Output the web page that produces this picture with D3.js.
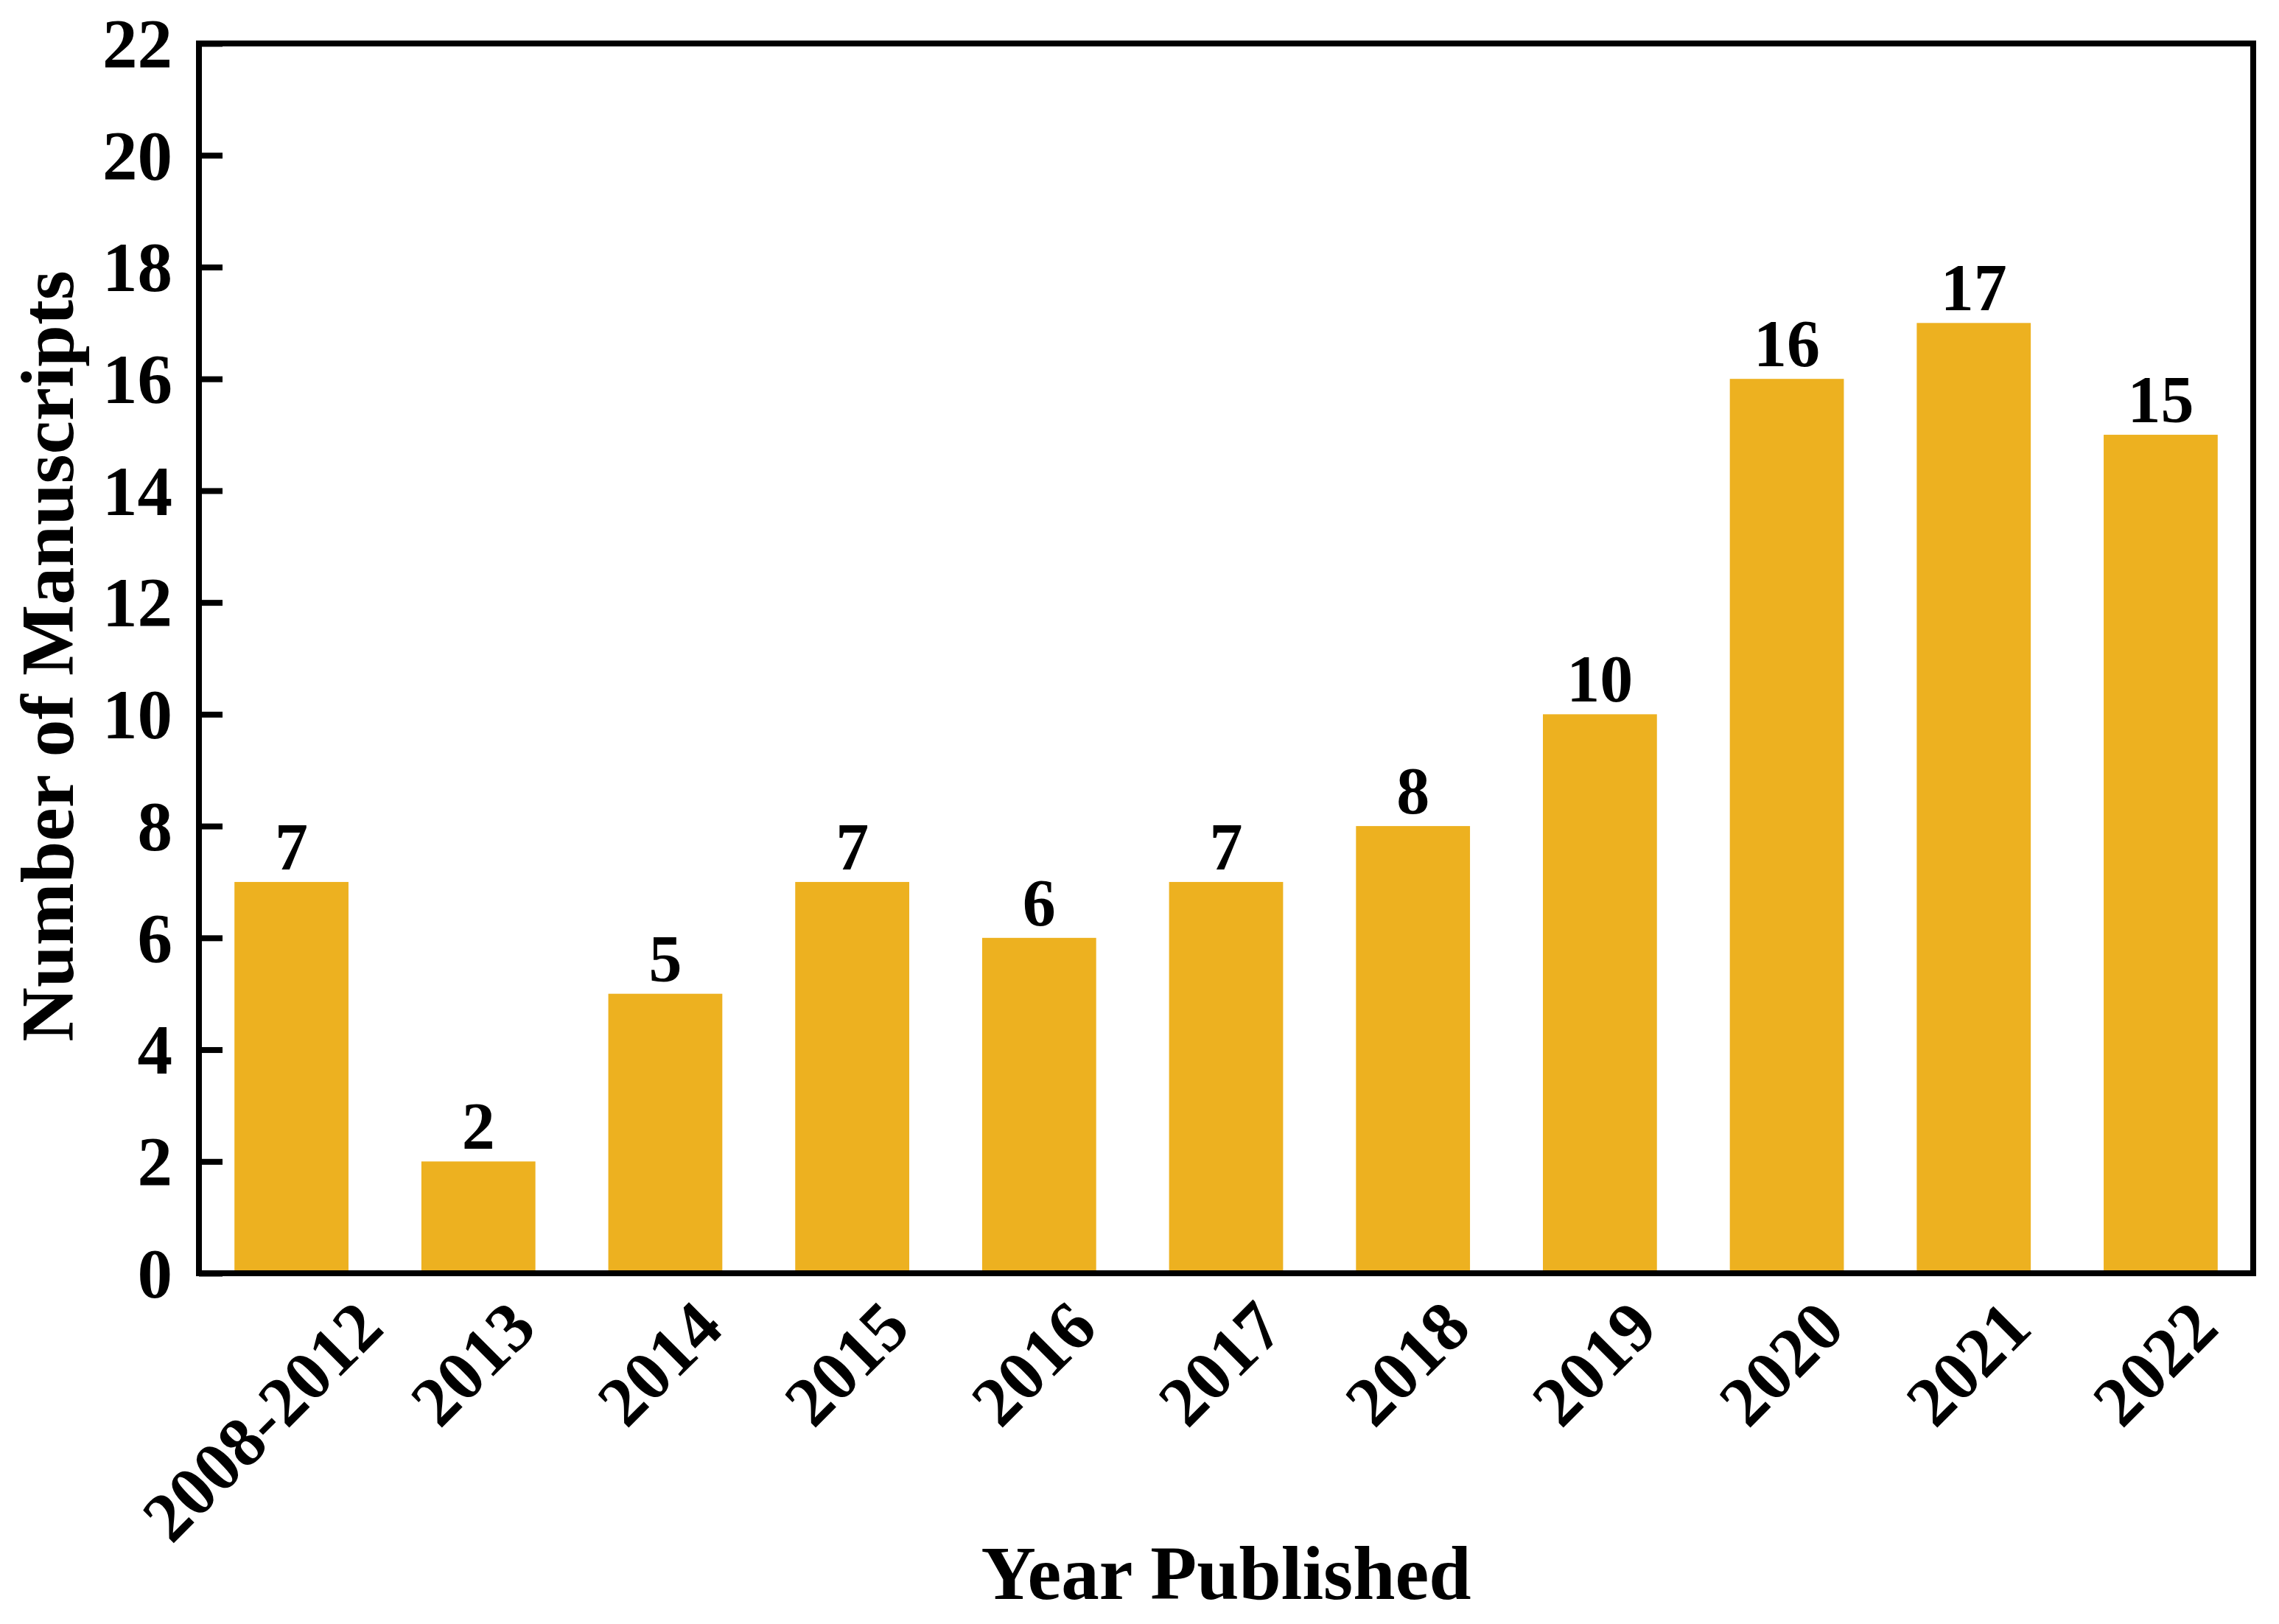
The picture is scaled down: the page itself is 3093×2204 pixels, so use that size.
<!DOCTYPE html>
<html>
<head>
<meta charset="utf-8">
<script src="https://cdn.jsdelivr.net/npm/d3@7"></script>
<style>
    body { margin: 0; background: #fff; }
    text { font-family: "Liberation Serif", "Times New Roman", serif; font-weight: bold; fill: #000; }
</style>
</head>
<body>
<svg id="chartSVG"></svg>
<script>
/* ---------- Data ---------- */
const yearLabels = ["2008-2012", "2013", "2014", "2015", "2016", "2017", "2018", "2019", "2020", "2021", "2022"];
const manuscriptCounts = [7, 2, 5, 7, 6, 7, 8, 10, 16, 17, 15];
const yTickValues = [0, 2, 4, 6, 8, 10, 12, 14, 16, 18, 20, 22];

const svgWidth = 3093, svgHeight = 2204;
const margin = { top: 59, right: 35, bottom: 476, left: 270 };
const chartWidth = svgWidth - margin.left - margin.right;
const chartHeight = svgHeight - margin.top - margin.bottom;
const barColour = "#EDB120";
const lineWidth = 8;

var svg = d3.select("#chartSVG")
    .attr("width", svgWidth)
    .attr("height", svgHeight);
svg.append("rect").attr("width", svgWidth).attr("height", svgHeight).attr("fill", "#fff");

var chart = svg.append("g")
    .attr("transform", "translate(" + margin.left + "," + margin.top + ")");

/* ---------- Scales ---------- */
var xScale = d3.scaleBand()
    .domain(yearLabels)
    .range([0, chartWidth])
    .paddingInner(0.39)
    .paddingOuter(0.19);
var yScale = d3.scaleLinear()
    .domain([0, 22])
    .range([chartHeight, 0]);

/* ---------- Bars ---------- */
chart.selectAll(".bar")
    .data(manuscriptCounts)
    .enter().append("rect")
        .attr("class", "bar")
        .attr("x", (d, i) => xScale(yearLabels[i]))
        .attr("y", d => yScale(d))
        .attr("width", xScale.bandwidth())
        .attr("height", d => chartHeight - yScale(d))
        .attr("fill", barColour);

// value on top of each bar
chart.selectAll(".value")
    .data(manuscriptCounts)
    .enter().append("text")
        .attr("class", "value")
        .attr("x", (d, i) => xScale(yearLabels[i]) + xScale.bandwidth() / 2)
        .attr("y", d => yScale(d) - 17)
        .attr("text-anchor", "middle")
        .style("font-size", "90px")
        .text(d => d);

/* ---------- Y axis (ticks point inward) ---------- */
var yAxis = d3.axisLeft(yScale)
    .tickValues(yTickValues)
    .tickSizeInner(-32)
    .tickSizeOuter(0)
    .tickPadding(36);
var yAxisGroup = chart.append("g").call(yAxis);
yAxisGroup.select(".domain").remove();
yAxisGroup.selectAll(".tick line").attr("stroke", "#000").attr("stroke-width", lineWidth);
yAxisGroup.selectAll(".tick text")
    .attr("fill", "#000")
    .style("font-size", "95px")
    .style("font-family", "'Liberation Serif', 'Times New Roman', serif")
    .style("font-weight", "bold")
    .attr("dy", "0.34em");

/* ---------- Frame ---------- */
chart.append("rect")
    .attr("width", chartWidth)
    .attr("height", chartHeight)
    .attr("fill", "none")
    .attr("stroke", "#000")
    .attr("stroke-width", lineWidth);

/* ---------- Rotated x labels ---------- */
var xLabelGroup = chart.append("g");
yearLabels.forEach(label => {
    var t = xLabelGroup.append("text")
        .attr("text-anchor", "end")
        .style("font-size", "95px")
        .text(label);
    // longer labels sit a little further right in the original
    var extra = 0.21 * (t.node().getComputedTextLength() - 190);
    var cx = xScale(label) + xScale.bandwidth() / 2 + 82 + extra;
    t.attr("transform", "translate(" + cx + "," + (chartHeight + 78) + ") rotate(-45)");
});

/* ---------- Axis Captions ---------- */
svg.append("text")
    .text("Year Published")
    .attr("text-anchor", "middle")
    .attr("x", margin.left + chartWidth / 2)
    .attr("y", 2170)
    .style("font-size", "103px");
svg.append("text")
    .text("Number of Manuscripts")
    .attr("text-anchor", "middle")
    .attr("transform", "translate(99," + (margin.top + chartHeight / 2 - 3) + ") rotate(-90)")
    .style("font-size", "102px");
</script>
</body>
</html>
